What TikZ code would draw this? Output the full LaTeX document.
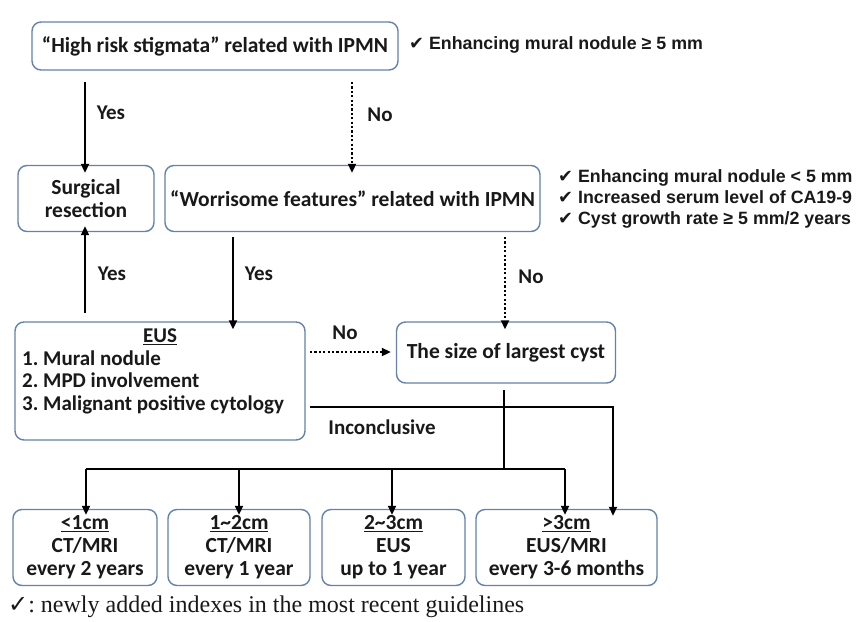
\documentclass[tikz,border=0pt]{standalone}
\usepackage{fontspec}
\setmainfont{Carlito}
\newfontfamily\chkfont{Liberation Sans}
\newfontfamily\djfont{DejaVu Sans}
\newfontfamily\serfont{Liberation Serif}
\usetikzlibrary{arrows.meta}
\definecolor{boxc}{RGB}{100,130,170}
\definecolor{txt}{RGB}{25,25,25}
\frenchspacing
\tikzset{
  box/.style={draw=boxc, line width=1.4pt, rounded corners=9pt, fill=white,
    font=\bfseries\fontsize{21.5}{23}\selectfont, text=txt, align=center, inner sep=0pt},
  arr/.style={-{Triangle[length=9pt,width=8pt]}, line width=2pt, black},
  dotarr/.style={arr, dash pattern=on 2.2pt off 2.2pt},
  plainline/.style={line width=1.8pt, black},
  lbl/.style={font=\bfseries\fontsize{21}{22.5}\selectfont, text=txt, inner sep=0pt},
  chk/.style={font=\chkfont\bfseries\fontsize{17.8}{21}\selectfont, text=txt, inner sep=0pt, align=left},
}
\newcommand{\tick}{{\djfont\mdseries ✔}}
\begin{document}
\begin{tikzpicture}[x=1pt,y=-1pt]
\useasboundingbox (0,0) rectangle (861,621);
% boxes
\node[box, minimum width=366pt, minimum height=48pt] (top) at (215,46) {“High risk stigmata” related with IPMN};
\node[box, minimum width=136pt, minimum height=66pt] (surg) at (86,198.5) {Surgical\\resection};
\node[box, minimum width=375pt, minimum height=66pt] (worry) at (352.5,198.5) {“Worrisome features” related with IPMN};
\node[box, minimum width=290pt, minimum height=118pt] (eus) at (160,381) {};
\node[lbl, anchor=north west] (eustext) at (22,327)
  {\begin{tabular}{@{}l@{}}\multicolumn{1}{@{\hspace{14pt}}c@{}}{\underline{EUS}}\\1. Mural nodule\\2. MPD involvement\\3. Malignant positive cytology\end{tabular}};
\node[box, minimum width=219pt, minimum height=61pt] (size) at (506,352.5) {The size of largest cyst};
\node[box, minimum width=144pt, minimum height=76pt] (b1) at (85,547.5) {\underline{<1cm}\\CT/MRI\\every 2 years};
\node[box, minimum width=142pt, minimum height=76pt] (b2) at (239,547.5) {\underline{1\char`\~2cm}\\CT/MRI\\every 1 year};
\node[box, minimum width=143pt, minimum height=76pt] (b3) at (393.5,547.5) {\underline{2\char`\~3cm}\\EUS\\up to 1 year};
\node[box, minimum width=181pt, minimum height=76pt] (b4) at (566.5,547.5) {\underline{>3cm}\\EUS/MRI\\every 3-6 months};
% check lists
\node[chk, anchor=west] (c1) at (409,45) {\tick\ Enhancing mural nodule ≥ 5 mm};
\node[chk, anchor=north west] (c2) at (558,169) {\tick\ Enhancing mural nodule < 5 mm\\\tick\ Increased serum level of CA19-9\\\tick\ Cyst growth rate ≥ 5 mm/2 years};
% coordinates
\coordinate (t1) at (85,82);
\coordinate (t2) at (352,82);
\coordinate (m1) at (85,313);
\coordinate (m2) at (233,237);
\coordinate (m3) at (505,237);
\coordinate (e1) at (310,352);
\coordinate (s0) at (504,390);
\coordinate (sj) at (504,469);
\coordinate (hl) at (86,469);
\coordinate (hr) at (565,469);
\coordinate (i0) at (310,407);
\coordinate (i1) at (613,407);
% arrows
\draw[arr] (t1) -- ([yshift=-8pt]t1 |- surg.north) ;
\draw[dotarr] (t2) -- ([yshift=-8pt]t2 |- worry.north);
\draw[arr] (m1) -- ([yshift=6pt]m1 |- surg.south);
\draw[arr] (m2) -- ([yshift=-8pt]m2 |- eus.north);
\draw[dotarr] (m3) -- ([yshift=-8pt]m3 |- size.north);
\draw[dotarr] (e1) -- ([xshift=-5pt]e1 -| size.west);
\draw[plainline] (s0) -- (sj);
\draw[line width=2pt] (hl) -- (hr);
\draw[arr] (hl) -- ([yshift=-6pt]hl |- b1.north);
\draw[arr] (239,469) -- ([yshift=-6pt]239,0 |- b2.north);
\draw[arr] (392,469) -- ([yshift=-6pt]392,0 |- b3.north);
\draw[arr] (hr) -- ([yshift=-6pt]hr |- b4.north);
\draw[plainline, -{Triangle[length=9pt,width=8pt]}] (i0) -- (i1) -- ([yshift=-7pt]i1 |- b4.north);
% labels
\node[lbl] (y1) at (111,113) {Yes};
\node[lbl] (n1) at (380,115) {No};
\node[lbl] (y2) at (112,274) {Yes};
\node[lbl] (y3) at (259,274) {Yes};
\node[lbl] (n2) at (531,277) {No};
\node[lbl] (n3) at (345,333) {No};
\node[lbl] (inc) at (382,427) {Inconclusive};
% footnote
\node[anchor=west, inner sep=0pt, font=\serfont\fontsize{24}{26}\selectfont, text=txt] (foot) at (8,607) {{\djfont ✓}: newly added indexes in the most recent guidelines};
\end{tikzpicture}
\end{document}
